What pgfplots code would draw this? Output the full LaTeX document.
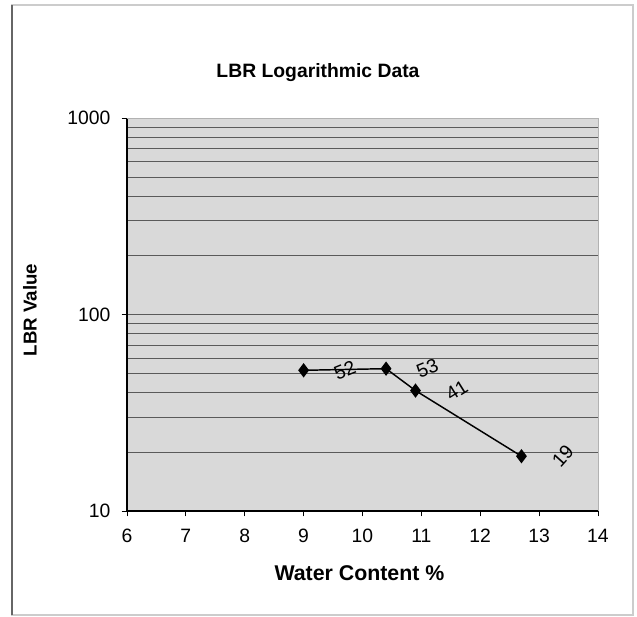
\documentclass[border=0pt]{standalone}
\usepackage{fontspec}
\setmainfont{Liberation Sans}
\usepackage{pgfplots}
\pgfplotsset{compat=1.18}
\usepackage{pgfplotstable}
\definecolor{plotbg}{RGB}{217,217,217}
\definecolor{gridc}{RGB}{90,90,90}
\pgfplotstableread{
x y lab rot
9 52 52 22
10.4 53 53 22
10.9 41 41 32
12.7 19 19 48
}\lbrdata
\begin{document}
\begin{tikzpicture}
\useasboundingbox (0,0) rectangle (477.75pt,462.75pt);
\draw[gray!40, line width=0.8pt] (9pt,1.5pt) rectangle (474.75pt,459pt);
\draw[gray!80!black, line width=1pt] (9pt,1.5pt) -- (9pt,459pt);
\begin{axis}[
  at={(95.25pt,79.5pt)}, anchor=south west,
  scale only axis, width=353.25pt, height=294.75pt,
  xmin=6, xmax=14, ymin=10, ymax=1000,
  ymode=log, log ticks with fixed point,
  /pgf/number format/1000 sep={},
  xtick={6,...,14},
  ytick={10,100,1000},
  axis background/.style={fill=plotbg},
  ymajorgrids, yminorgrids,
  major grid style={gridc, line width=0.6pt},
  minor grid style={gridc, line width=0.5pt},
  tick align=outside,
  major tick length=4pt, minor tick length=0pt,
  xtick pos=bottom, ytick pos=left,
  minor y tick num=8,
  axis x line*=bottom, axis y line*=left,
  axis line style={black, line width=0.8pt, -},
  tick style={black, line width=0.6pt},
  tick label style={font=\fontsize{14.5}{16}\selectfont},
  /pgf/number format/assume math mode=true,
  xticklabel style={yshift=-6pt},
  yticklabel style={xshift=-5pt},
  clip=false,
]
\draw[gray!60, line width=0.6pt] (rel axis cs:0,1) -- (rel axis cs:1,1) -- (rel axis cs:1,0);
\addplot[black, line width=1.1pt, mark=diamond*, mark size=4.5pt,
  mark options={fill=black},
  point meta=explicit symbolic,
  visualization depends on={\thisrow{rot} \as \rot},
  nodes near coords,
  every node near coord/.append style={anchor=center, inner sep=1pt, xshift=31pt, rotate=\rot, font=\fontsize{14.5}{16}\selectfont, text=black},
] table[x=x, y=y, meta=lab] {\lbrdata};
\end{axis}
\node[font=\bfseries\fontsize{14.5}{16}\selectfont] at (238.5pt,408pt) {LBR Logarithmic Data};
\node[font=\bfseries\fontsize{16}{18}\selectfont] at (269.6pt,33pt) {Water Content \%};
\node[font=\bfseries\fontsize{14}{16}\selectfont, rotate=90] at (22.5pt,230.25pt) {LBR Value};
\end{tikzpicture}
\end{document}
